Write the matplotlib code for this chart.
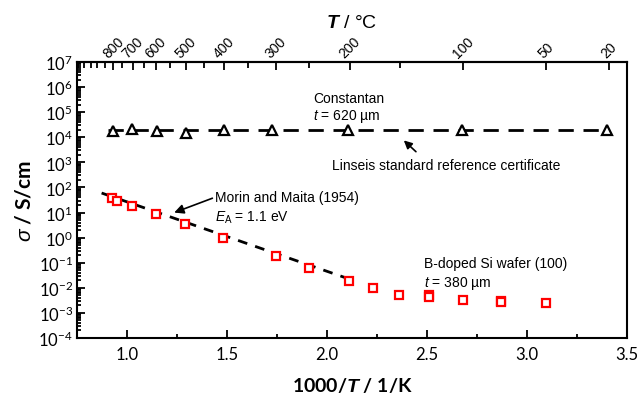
import numpy as np
import matplotlib
matplotlib.use("Agg")
import matplotlib.pyplot as plt
from matplotlib.ticker import LogLocator, NullFormatter, FixedLocator

plt.rcParams['font.family'] = ['Liberation Sans', 'DejaVu Sans']
plt.rcParams['mathtext.fontset'] = 'custom'
plt.rcParams['mathtext.rm'] = 'Lato'
plt.rcParams['mathtext.it'] = 'Liberation Sans:italic'
plt.rcParams['mathtext.sf'] = 'Liberation Sans'
plt.rcParams['mathtext.bf'] = 'Lato:bold'
plt.rcParams['mathtext.bfit'] = 'Liberation Sans:bold:italic'

# Constantan reference sample (Linseis certificate)
con_x = [0.928, 1.023, 1.148, 1.293, 1.485, 1.723, 2.106, 2.677, 3.398]
con_sigma = [1.8e4, 2.2e4, 1.8e4, 1.5e4, 2.0e4, 2.0e4, 2.0e4, 2.0e4, 2.0e4]
cert_x = [0.905, 3.40]
cert_sigma = [2.0e4, 2.0e4]

# B-doped Si wafer (100)
si_x = [0.927, 0.952, 1.023, 1.145, 1.292, 1.482, 1.745, 1.908, 2.112, 2.232,
        2.362, 2.510, 2.510, 2.678, 2.870, 2.870, 3.093]
si_sigma = [37, 28, 19, 8.7, 3.5, 0.97, 0.19, 0.064, 0.019, 0.010,
            0.0054, 0.0052, 0.0043, 0.0033, 0.0031, 0.0027, 0.0025]

# Morin and Maita (1954), E_A = 1.1 eV
mm_x = [0.873, 2.15]
mm_sigma = [60.0, 0.0175]

# top axis temperatures in degC
t_major = [800, 700, 600, 500, 400, 300, 200, 100, 50, 20]
t_minor = [1050, 1000, 950, 900, 850, 750, 650, 550, 450, 350, 250, 150]


def k_to_c(x):
    x = np.asarray(x, dtype=float)
    with np.errstate(divide='ignore'):
        return 1000.0 / x - 273.15


def c_to_k(c):
    c = np.asarray(c, dtype=float)
    with np.errstate(divide='ignore'):
        return 1000.0 / (c + 273.15)


fig = plt.figure(figsize=(6.38, 4.02), dpi=100)
ax = fig.add_axes([0.1207, 0.1567, 0.862, 0.6866])

ax.plot(cert_x, cert_sigma, color='k', lw=2.0, dashes=(5.5, 3.5), zorder=2)
ax.plot(con_x, con_sigma, ls='none', marker='^', ms=7, mfc='white',
        mec='k', mew=1.6, zorder=3)
ax.plot(mm_x, mm_sigma, color='k', lw=2.0, dashes=(3.5, 3), zorder=2)
ax.plot(si_x, si_sigma, ls='none', marker='s', ms=6, mfc='white',
        mec='#ff0000', mew=1.6, zorder=3)

ax.set_yscale('log')
ax.set_xlim(0.75, 3.5)
ax.set_ylim(1e-4, 1e7)
ax.set_yticks([10.0**k for k in range(-4, 8)])
ax.yaxis.set_minor_locator(LogLocator(base=10, subs=np.arange(2, 10), numticks=20))
ax.yaxis.set_minor_formatter(NullFormatter())
ax.set_yticklabels([r'$10^{%d}$' % k for k in range(-4, 8)])
ax.set_xticks([1.0, 1.5, 2.0, 2.5, 3.0, 3.5])
ax.set_xticklabels(['1.0', '1.5', '2.0', '2.5', '3.0', '3.5'], family='Lato')
ax.xaxis.set_minor_locator(FixedLocator([1.25, 1.75, 2.25, 2.75, 3.25]))

ax.tick_params(which='both', direction='in', top=False, right=False, width=1.3)
ax.tick_params(which='major', length=6, labelsize=12, pad=6)
ax.tick_params(which='minor', length=3)
ax.tick_params(axis='y', labelsize=12, pad=3)
for s in ax.spines.values():
    s.set_linewidth(1.5)

ax.set_xlabel(r'1000/$\mathbfit{T}$ / 1/K', family='Lato', fontweight='bold',
              fontsize=14, labelpad=9)
ax.set_ylabel(r'$\sigma$ / S/cm', family='Lato', fontweight='bold',
              fontsize=15, labelpad=3)

top = ax.secondary_xaxis('top', functions=(k_to_c, c_to_k))
top.set_xticks(t_major)
top.set_xticklabels([str(t) for t in t_major], rotation=45, ha='center',
                    va='bottom', fontsize=10)
top.set_xticks(t_minor, minor=True)
top.tick_params(which='both', direction='in', width=1.3)
top.tick_params(which='major', length=6, pad=1)
top.tick_params(which='minor', length=4)
top.spines['top'].set_linewidth(1.5)
fig.text(0.5517, 0.942, r'$\mathbfit{T}$ / °C', ha='center', va='center',
         fontsize=14)

# annotations
ax.text(1.93, 10**5.55, 'Constantan', fontsize=10, va='center')
ax.text(1.93, 10**4.85, r'$\mathit{t}$ = 620 µm', fontsize=10, va='center')
ax.annotate('', xy=(2.374, 10**3.95), xytext=(2.455, 10**3.35),
            arrowprops=dict(arrowstyle='-|>', color='k', lw=1.2,
                            mutation_scale=12))
ax.text(2.025, 10**2.9, 'Linseis standard reference certificate', fontsize=10,
        va='center')

ax.annotate('', xy=(1.223, 10**0.96), xytext=(1.44, 10**1.61),
            arrowprops=dict(arrowstyle='-|>', color='k', lw=1.2,
                            mutation_scale=14))
ax.text(1.44, 10**1.61, 'Morin and Maita (1954)', fontsize=10, va='center')
ax.text(1.44, 10**0.85, r'$\mathit{E}_\mathsf{A}$ = 1.1 eV', fontsize=10,
        va='center')

ax.text(2.485, 10**-1.0, 'B-doped Si wafer (100)', fontsize=10, va='center')
ax.text(2.485, 10**-1.8, r'$\mathit{t}$ = 380 µm', fontsize=10, va='center')

fig.savefig('out.png', dpi=100)
